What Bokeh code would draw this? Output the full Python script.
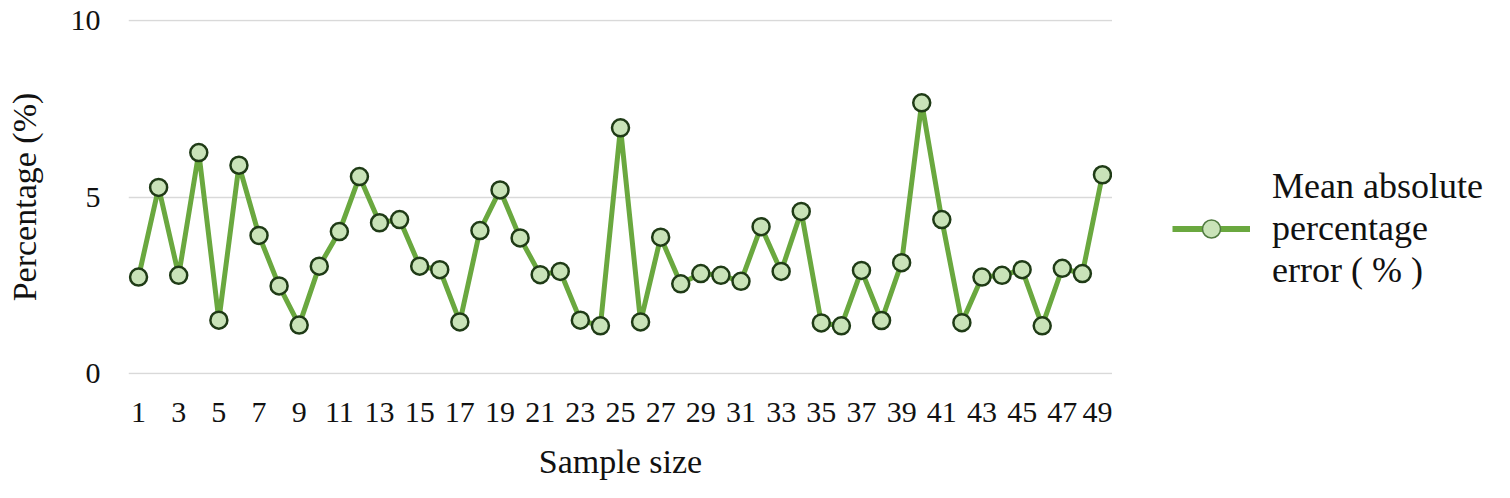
from bokeh.plotting import figure
from bokeh.layouts import row
from bokeh.models import Range1d, FixedTicker, Legend, LegendItem
from bokeh.embed import file_html
from bokeh.resources import INLINE

sample_size = list(range(1, 50))
mape = [2.73, 5.27, 2.78, 6.26, 1.51, 5.90, 3.91, 2.48, 1.37, 3.04,
        4.02, 5.58, 4.27, 4.36, 3.04, 2.94, 1.46, 4.05, 5.20, 3.84,
        2.80, 2.89, 1.51, 1.35, 6.96, 1.46, 3.86, 2.54, 2.83, 2.78,
        2.61, 4.16, 2.89, 4.59, 1.43, 1.35, 2.92, 1.50, 3.14, 7.67,
        4.36, 1.44, 2.73, 2.78, 2.94, 1.35, 2.98, 2.83, 5.63]
x_ticks = list(range(1, 50, 2))
y_ticks = [0, 5, 10]
series_label = "Mean absolute\npercentage\nerror ( % )"

FONT = "Liberation Serif"
LINE_COLOR = "#6aa83f"
FILL_COLOR = "#c9e3b8"

# ---- main chart ----
p = figure(width=1112, height=490, output_backend="svg", toolbar_location=None,
           x_range=Range1d(0.5, 49.5), y_range=Range1d(-0.03, 10.03),
           min_border_left=128, min_border_right=0, min_border_top=19,
           min_border_bottom=116)
p.outline_line_color = None
p.background_fill_color = "white"

p.line(sample_size, mape, line_color=LINE_COLOR, line_width=5)
p.scatter(sample_size, mape, size=17, fill_color=FILL_COLOR,
          line_color="#1f3b16", line_width=2.5)

for ax in (p.xaxis[0], p.yaxis[0]):
    ax.axis_line_color = None
    ax.major_tick_line_color = None
    ax.minor_tick_line_color = None
    ax.major_label_text_font = FONT
    ax.major_label_text_font_size = "30px"
    ax.major_label_text_color = "#111111"
    ax.axis_label_text_font = FONT
    ax.axis_label_text_font_size = "34px"
    ax.axis_label_text_font_style = "normal"
    ax.axis_label_text_color = "#111111"

p.xaxis.ticker = FixedTicker(ticks=x_ticks)
p.yaxis.ticker = FixedTicker(ticks=y_ticks)
p.xaxis.axis_label = "Sample size"
p.yaxis.axis_label = "Percentage (%)"
p.xaxis.major_label_standoff = 22
p.yaxis.major_label_standoff = 22
p.xaxis.axis_label_standoff = 18
p.yaxis.axis_label_standoff = 25

p.xgrid.grid_line_color = None
p.ygrid.grid_line_color = "#d9d9d9"
p.ygrid.grid_line_width = 1.5

# ---- legend panel (same series drawn out of view; only its legend shows) ----
q = figure(width=388, height=490, output_backend="svg", toolbar_location=None,
           x_range=Range1d(100, 101), y_range=Range1d(0, 1),
           min_border_left=0, min_border_right=0, min_border_top=0,
           min_border_bottom=0, x_axis_location=None, y_axis_location=None)
q.outline_line_color = None
q.xgrid.visible = False
q.ygrid.visible = False

leg_line = q.line(sample_size, mape, line_color=LINE_COLOR, line_width=6)
leg_pts = q.scatter(sample_size, mape, fill_color=FILL_COLOR,
                    line_color="#4f7a3f", line_width=1.5)

legend = Legend(items=[LegendItem(label=series_label,
                                  renderers=[leg_line, leg_pts])],
                location=(60, 83), padding=0, margin=0, spacing=0,
                glyph_width=78, glyph_height=45, label_standoff=22,
                border_line_color=None, background_fill_alpha=0,
                label_text_font=FONT, label_text_font_size="36px",
                label_text_color="#111111")
q.add_layout(legend)

layout = row(p, q, spacing=0)
open("out.html", "w").write(file_html(layout, INLINE))
